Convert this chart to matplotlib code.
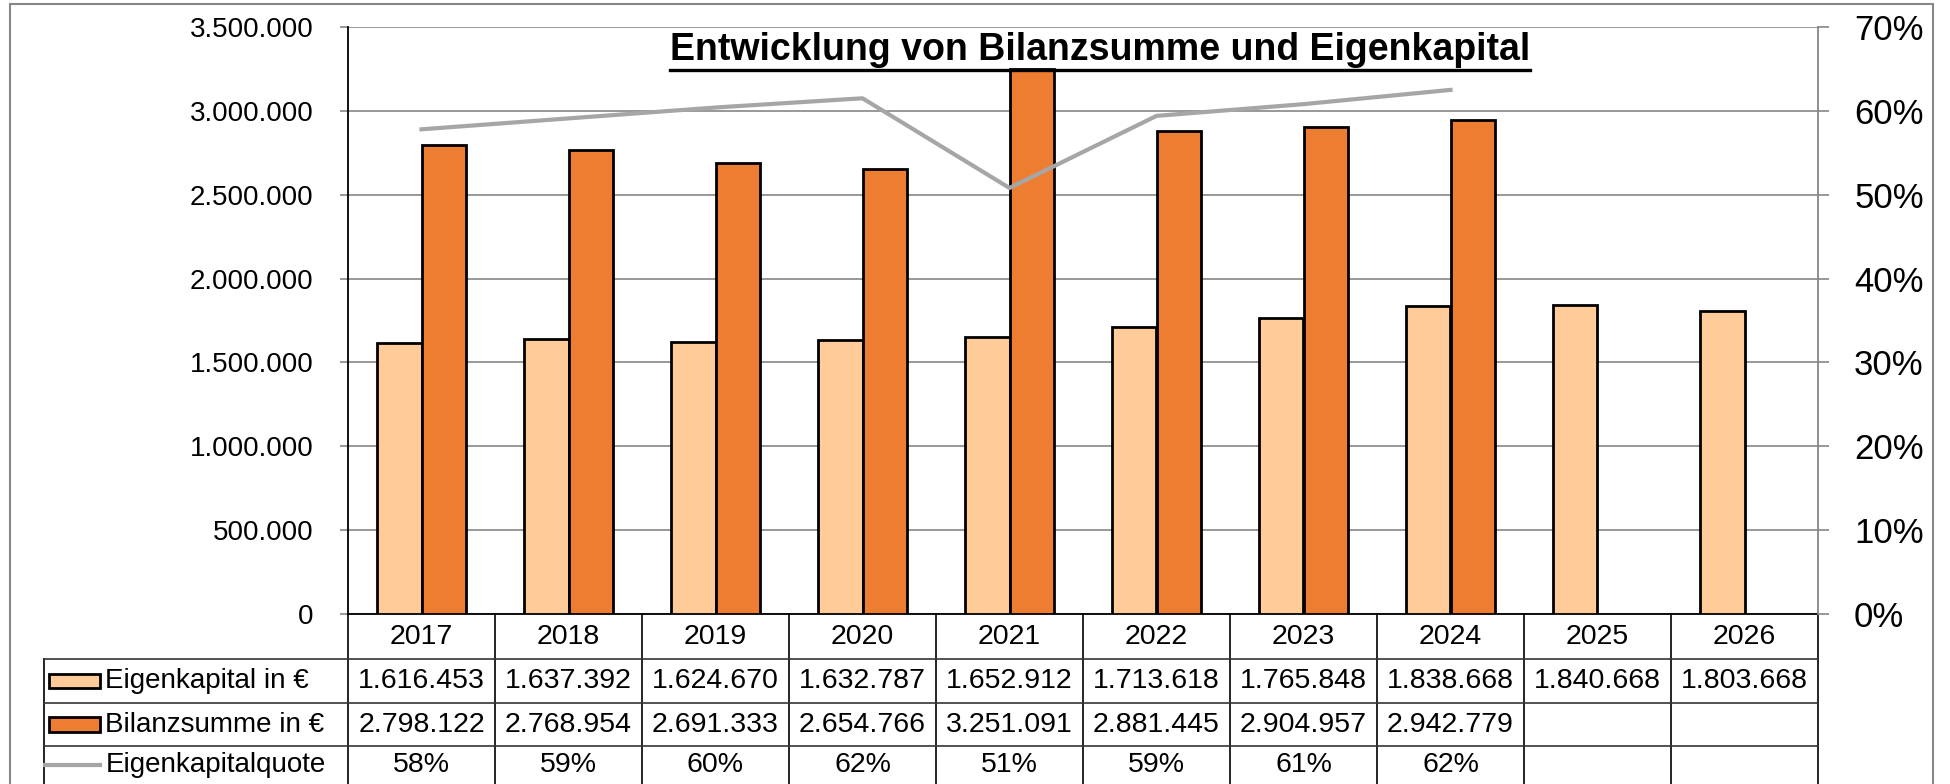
import numpy as np
import matplotlib.pyplot as plt
import matplotlib.ticker as mticker
from matplotlib.patches import Rectangle
from matplotlib.lines import Line2D

# Daten aus der Tabelle unter dem Diagramm
jahre = ["2017", "2018", "2019", "2020", "2021", "2022", "2023", "2024", "2025", "2026"]
eigenkapital = [1616453, 1637392, 1624670, 1632787, 1652912, 1713618, 1765848, 1838668, 1840668, 1803668]
bilanzsumme = [2798122, 2768954, 2691333, 2654766, 3251091, 2881445, 2904957, 2942779, None, None]
ek_quote = [0.578, 0.591, 0.604, 0.615, 0.508, 0.594, 0.608, 0.625]

reihen = ["Eigenkapital in €", "Bilanzsumme in €", "Eigenkapitalquote"]

farbe_ek = "#FFCC99"
farbe_bs = "#ED7D31"
farbe_quote = "#A6A6A6"
gitter = "#868686"

plt.rcParams["font.family"] = ["Liberation Sans", "DejaVu Sans"]
tab_fs = 20.5


def tausender(v, pos=None):
    return f"{v:,.0f}".replace(",", ".")


W, H = 1950, 784
fig = plt.figure(figsize=(W / 100, H / 100), dpi=100)
ax = fig.add_axes([348 / W, 1 - 614 / H, 1470 / W, 587 / H])

x = np.arange(len(jahre))
bw = 0.3
ax.bar(x - bw / 2, eigenkapital, bw, color=farbe_ek, edgecolor="black", linewidth=2.0, zorder=3)
bs_idx = [i for i, v in enumerate(bilanzsumme) if v is not None]
ax.bar(np.array(bs_idx) + bw / 2, [bilanzsumme[i] for i in bs_idx], bw,
       color=farbe_bs, edgecolor="black", linewidth=2.0, zorder=3)

ax.set_xlim(-0.5, len(jahre) - 0.5)
ax.set_ylim(0, 3500000)
ax.yaxis.set_major_locator(mticker.MultipleLocator(500000))
ax.yaxis.set_major_formatter(mticker.FuncFormatter(tausender))
ax.grid(axis="y", color=gitter, lw=1.2, zorder=0)
ax.set_xticks([])
ax.spines["top"].set_visible(False)
ax.spines["right"].set_visible(False)
ax.spines["left"].set_color("black")
ax.spines["left"].set_linewidth(1.3)
ax.spines["bottom"].set_color("black")
ax.spines["bottom"].set_linewidth(1.3)
ax.tick_params(axis="y", length=6, color=gitter, width=1.2, labelsize=20, pad=19)

# Eigenkapitalquote auf der rechten Achse
ax2 = ax.twinx()
ax2.plot(x[:len(ek_quote)], ek_quote, color=farbe_quote, lw=3, zorder=4)
ax2.set_ylim(0, 0.7)
ax2.yaxis.set_major_locator(mticker.MultipleLocator(0.1))
ax2.yaxis.set_major_formatter(mticker.PercentFormatter(1.0, decimals=0))
for s in ["top", "left", "bottom"]:
    ax2.spines[s].set_visible(False)
ax2.spines["right"].set_color(gitter)
ax2.spines["right"].set_linewidth(1.3)
ax2.tick_params(axis="y", length=8, color=gitter, width=1.2, labelsize=25, pad=18)

# Datentabelle unter dem Diagramm
xa = ax.get_xaxis_transform()
zeilen = [0, -0.0767, -0.1516, -0.2249, -0.29]
unten = -0.35
links = -2.568
tab_lw = 1.2
for i in range(len(jahre) + 1):
    ax.plot([i - 0.5, i - 0.5], [zeilen[0], unten], transform=xa, color="black",
            lw=tab_lw, clip_on=False)
ax.plot([links, links], [zeilen[1], unten], transform=xa, color="black", lw=tab_lw, clip_on=False)
for y in zeilen[1:4]:
    ax.plot([links, len(jahre) - 0.5], [y, y], transform=xa, color="#333333", lw=tab_lw, clip_on=False)

mitte = [(zeilen[k] + zeilen[k + 1]) / 2 for k in range(4)]
for i, j in enumerate(jahre):
    ax.text(i, mitte[0], j, transform=xa, ha="center", va="center", fontsize=tab_fs)
    ax.text(i, mitte[1], tausender(eigenkapital[i]), transform=xa, ha="center", va="center",
            fontsize=tab_fs)
    if bilanzsumme[i] is not None:
        ax.text(i, mitte[2], tausender(bilanzsumme[i]), transform=xa, ha="center", va="center",
                fontsize=tab_fs)
    if i < len(ek_quote):
        ax.text(i, mitte[3], f"{round(ek_quote[i] * 100)}%", transform=xa, ha="center", va="center",
                fontsize=tab_fs)

# Legendenschlüssel
kh = 0.024
for k, farbe in [(1, farbe_ek), (2, farbe_bs)]:
    ax.add_patch(Rectangle((-2.534, mitte[k] - kh / 2), 0.347, kh, transform=xa,
                           facecolor=farbe, edgecolor="black", lw=2.0, clip_on=False))
ax.plot([-2.561, -2.187], [mitte[3], mitte[3]], transform=xa, color=farbe_quote, lw=3, clip_on=False)
for k, name in enumerate(reihen):
    ax.text(-2.15, mitte[k + 1], name, transform=xa, ha="left", va="center", fontsize=20)

# Titel mit Unterstreichung
titel = fig.text(1100 / W, 1 - 50 / H, "Entwicklung von Bilanzsumme und Eigenkapital",
                 ha="center", va="center", fontsize=27, fontweight="bold")
fig.canvas.draw()
bb = titel.get_window_extent()
fig.add_artist(Line2D([bb.x0 / W, bb.x1 / W], [1 - 70 / H, 1 - 70 / H], transform=fig.transFigure,
                      color="black", lw=2.4))

# Rahmen um das Diagramm
fig.add_artist(Rectangle((10 / W, -0.02), 1923 / W, 1.02 - 4 / H, transform=fig.transFigure,
                         fill=False, edgecolor="#888888", lw=1.5))

fig.savefig("out.png", dpi=100)
